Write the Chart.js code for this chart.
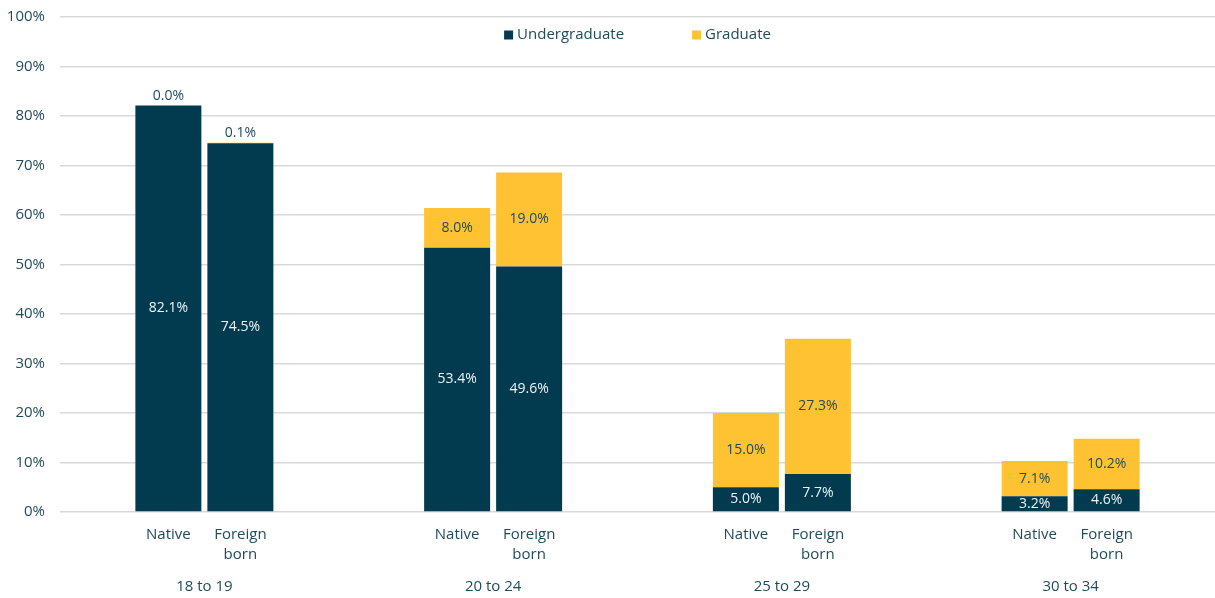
<!DOCTYPE html>
<html>
<head>
<meta charset="utf-8">
<script src="https://cdn.jsdelivr.net/npm/chart.js@4"></script>
<style>
  html, body { margin: 0; padding: 0; background: #fff; }
  #wrap { width: 1215px; height: 598px; position: relative; }
</style>
</head>
<body>
<div id="wrap"><canvas id="enrolChart"></canvas></div>
<script>
// age groups on the x axis, two bars (native / foreign born) per group
const ageGroups = ['18 to 19', '20 to 24', '25 to 29', '30 to 34'];
const barLabels = [['Native'], ['Foreign', 'born']];

const nativeUndergrad = [82.1, 53.4, 5.0, 3.2];
const nativeGrad = [0.0, 8.0, 15.0, 7.1];
const foreignUndergrad = [74.5, 49.6, 7.7, 4.6];
const foreignGrad = [0.1, 19.0, 27.3, 10.2];

const yTicks = [0, 10, 20, 30, 40, 50, 60, 70, 80, 90, 100];

const NAVY = '#023b4f';
const GOLD = '#fec232';
const TEXT = '#1f4b5c';
const FONT = '"Open Sans", sans-serif';

// value labels inside (or above, when tiny) each segment
const valueLabels = {
  id: 'valueLabels',
  afterDatasetsDraw(chart) {
    const ctx = chart.ctx;
    ctx.save();
    ctx.font = '14px ' + FONT;
    ctx.textAlign = 'center';
    ctx.textBaseline = 'middle';
    chart.data.datasets.forEach((ds, di) => {
      const meta = chart.getDatasetMeta(di);
      meta.data.forEach((bar, i) => {
        const v = ds.data[i];
        const text = v.toFixed(1) + '%';
        const h = bar.base - bar.y;
        if (h < 8) {
          ctx.fillStyle = TEXT;
          ctx.fillText(text, bar.x, bar.y - 10);
        } else {
          ctx.fillStyle = ds.backgroundColor === NAVY ? '#eef3f5' : TEXT;
          ctx.fillText(text, bar.x, (bar.y + bar.base) / 2);
        }
      });
    });
    ctx.restore();
  }
};

// "Native" / "Foreign born" under each bar
const barNames = {
  id: 'barNames',
  afterDraw(chart) {
    const ctx = chart.ctx;
    const base = chart.chartArea.bottom;
    ctx.save();
    ctx.font = '15px ' + FONT;
    ctx.fillStyle = TEXT;
    ctx.textAlign = 'center';
    ctx.textBaseline = 'middle';
    [0, 2].forEach((di, k) => {
      chart.getDatasetMeta(di).data.forEach(bar => {
        barLabels[k].forEach((line, j) => {
          ctx.fillText(line, bar.x, base + 23 + j * 20);
        });
      });
    });
    ctx.restore();
  }
};

// legend drawn inside the plot, centred near the top
const innerLegend = {
  id: 'innerLegend',
  afterDraw(chart) {
    const ctx = chart.ctx;
    const area = chart.chartArea;
    const items = chart.data.datasets.slice(0, 2);
    ctx.save();
    ctx.font = '15px ' + FONT;
    ctx.textBaseline = 'middle';
    const box = 9, gap = 4, spacing = 68;
    const widths = items.map(ds => box + gap + ctx.measureText(ds.label).width);
    const total = widths.reduce((a, b) => a + b, 0) + spacing * (items.length - 1);
    let x = (area.left + area.right) / 2 - total / 2;
    const y = 35;
    items.forEach((ds, i) => {
      ctx.fillStyle = ds.backgroundColor;
      ctx.fillRect(x, y - box / 2, box, box);
      ctx.fillStyle = TEXT;
      ctx.fillText(ds.label, x + box + gap, y);
      x += widths[i] + spacing;
    });
    ctx.restore();
  }
};

const ctx = document.getElementById('enrolChart').getContext('2d');
new Chart(ctx, {
  type: 'bar',
  data: {
    labels: ageGroups,
    datasets: [
      { label: 'Undergraduate', data: nativeUndergrad, backgroundColor: NAVY, stack: 'native' },
      { label: 'Graduate', data: nativeGrad, backgroundColor: GOLD, stack: 'native' },
      { label: 'Undergraduate', data: foreignUndergrad, backgroundColor: NAVY, stack: 'foreign' },
      { label: 'Graduate', data: foreignGrad, backgroundColor: GOLD, stack: 'foreign' }
    ]
  },
  options: {
    responsive: true,
    maintainAspectRatio: false,
    animation: false,
    categoryPercentage: 0.4987,
    barPercentage: 0.9167,
    layout: { padding: { left: 8, top: 17, right: 0, bottom: 0 } },
    scales: {
      x: {
        stacked: true,
        grid: { display: false, drawTicks: false },
        border: { display: false },
        ticks: { color: TEXT, font: { family: FONT, size: 15 }, padding: 66 },
        afterFit(axis) { axis.height = 86; }
      },
      y: {
        stacked: true,
        min: 0,
        max: 100,
        afterBuildTicks(axis) { axis.ticks = yTicks.map(v => ({ value: v })); },
        afterFit(axis) { axis.width = 52; axis.paddingTop = 0; axis.paddingBottom = 0; },
        grid: { color: '#d9d9d9', lineWidth: 1.5, drawTicks: false },
        border: { display: false },
        ticks: {
          color: TEXT,
          font: { family: FONT, size: 15 },
          padding: 15,
          callback: v => v + '%'
        }
      }
    },
    plugins: {
      legend: { display: false },
      tooltip: { enabled: false }
    }
  },
  plugins: [valueLabels, barNames, innerLegend]
});
</script>
</body>
</html>
